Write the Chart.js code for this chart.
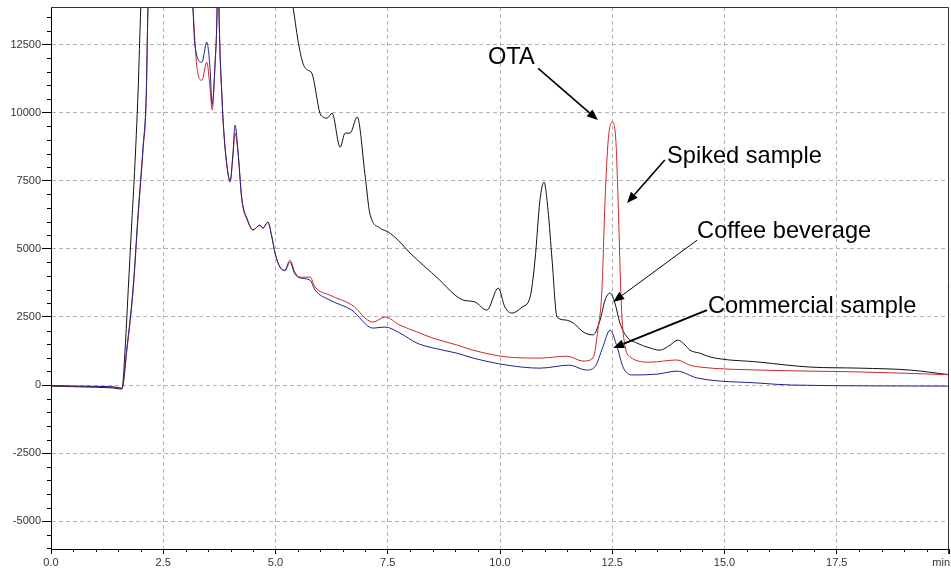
<!DOCTYPE html>
<html>
<head>
<meta charset="utf-8">
<script src="https://cdn.jsdelivr.net/npm/chart.js@4.4.1/dist/chart.umd.min.js"></script>
<style>
html, body { margin: 0; padding: 0; background: #fff; }
#wrap { width: 951px; height: 572px; }
</style>
</head>
<body>
<div id="wrap"><canvas id="chrom" width="951" height="572"></canvas></div>
<script>
// Retention time (min) and detector response for each trace
const beverageTime = [0, 0.5, 1.0, 1.4, 1.58, 1.65, 1.72, 1.80, 1.86, 1.94, 2.00, 2.05, 2.5, 3.5, 4.5,
  5.2, 5.39, 5.50, 5.61, 5.72, 5.81, 5.99, 6.06, 6.15, 6.26, 6.44, 6.55, 6.66, 6.82, 7.00,
  7.10, 7.33, 7.51, 7.73, 8.00, 8.29, 8.66, 9.00, 9.18, 9.44, 9.71, 9.96, 10.11, 10.27, 10.49,
  10.67, 10.78, 10.89, 10.98, 11.07, 11.16, 11.27, 11.45, 11.63, 11.85, 12.07, 12.23, 12.34, 12.45, 12.56,
  12.67, 12.83, 13.05, 13.34, 13.56, 13.79, 13.96, 14.12, 14.23, 14.45, 14.68, 15.79, 16.90, 18.02, 19.13, 20.0];
const beverageSignal = [-40, -60, -80, -110, -150, 1300, 3500, 6000, 7800, 10800, 13880, 15600, 22000, 25000, 20000,
  15500, 13880, 12660, 11820, 11560, 11450, 9980, 9840, 9800, 9980, 8730, 9250, 9250, 9840, 7630,
  6310, 5760, 5620, 5320, 4840, 4400, 3850, 3300, 3120, 3050, 2750, 3560, 2860, 2640, 2860,
  3230, 4590, 6790, 7450, 6420, 4590, 2500, 2390, 2280, 1950, 1840, 2390, 3120, 3380, 3010,
  2280, 1760, 1540, 1360, 1280, 1470, 1650, 1470, 1280, 1170, 1030, 840, 660, 620, 550, 380];

const spikedTime = [0, 0.5, 1.0, 1.4, 1.58, 1.69, 1.83, 1.94, 2.05, 2.12, 2.16, 2.20, 2.6, 3.0, 3.16,
  3.25, 3.36, 3.47, 3.54, 3.59, 3.65, 3.70, 3.72, 3.74, 3.81, 3.85, 3.92, 3.99, 4.05, 4.10,
  4.16, 4.25, 4.37, 4.50, 4.65, 4.72, 4.83, 4.92, 4.99, 5.10, 5.21, 5.32, 5.43, 5.55, 5.77,
  5.88, 6.21, 6.70, 7.17, 7.44, 7.77, 8.15, 8.51, 9.04, 9.40, 10.16, 10.89, 11.49, 11.85, 12.07,
  12.18, 12.27, 12.34, 12.41, 12.50, 12.58, 12.63, 12.69, 12.72, 12.79, 12.90, 13.34, 13.94, 14.23, 14.45,
  15.79, 18.02, 20.0];
const spikedSignal = [-20, -40, -50, -70, -120, 1280, 3490, 6170, 8620, 10460, 13880, 15500, 22000, 18000, 13880,
  11670, 11190, 11850, 10940, 10100, 11670, 13880, 16500, 13880, 10460, 9250, 8000, 7450, 8370, 9250,
  8620, 6790, 6060, 5690, 5870, 5760, 5980, 5430, 4840, 4330, 4220, 4590, 4150, 3960, 3960,
  3600, 3300, 2940, 2310, 2500, 2200, 1950, 1720, 1470, 1280, 1030, 990, 1060, 880, 990,
  2020, 3490, 6790, 8990, 9650, 8990, 6790, 3490, 2390, 1390, 1030, 840, 920, 730, 660,
  550, 480, 380];

const commercialTime = [0, 0.5, 1.0, 1.4, 1.58, 1.69, 1.83, 1.94, 2.05, 2.12, 2.16, 2.20, 2.6, 3.0, 3.16,
  3.20, 3.36, 3.47, 3.54, 3.59, 3.65, 3.70, 3.72, 3.74, 3.81, 3.85, 3.92, 3.99, 4.05, 4.10,
  4.16, 4.25, 4.37, 4.50, 4.65, 4.72, 4.83, 4.92, 4.99, 5.10, 5.21, 5.32, 5.43, 5.55, 5.77,
  5.88, 6.21, 6.70, 7.17, 7.44, 7.77, 8.15, 8.51, 9.04, 9.40, 10.16, 10.89, 11.55, 11.92, 12.11,
  12.29, 12.45, 12.61, 12.74, 12.94, 13.50, 13.94, 14.39, 15.79, 16.50, 20.0];
const commercialSignal = [-20, -40, -50, -70, -120, 1350, 3600, 6300, 8750, 10600, 13880, 15500, 22000, 18000, 13880,
  12550, 11850, 12590, 11670, 10300, 11670, 13880, 16500, 13880, 10500, 9300, 8050, 7500, 8450, 9540,
  8700, 6850, 6100, 5700, 5870, 5760, 5980, 5430, 4840, 4330, 4200, 4510, 4080, 3930, 3850,
  3490, 3120, 2750, 2090, 2130, 1910, 1540, 1360, 1170, 990, 730, 620, 730, 550, 660,
  1390, 2020, 1390, 660, 370, 400, 510, 260, 70, 0, -40];

// Axis ticks and labels
const yMajorTicks = [-5000, -2500, 0, 2500, 5000, 7500, 10000, 12500];
const xMajorTicks = [0, 2.5, 5, 7.5, 10, 12.5, 15, 17.5, 20];
const xTickLabels = ['0.0', '2.5', '5.0', '7.5', '10.0', '12.5', '15.0', '17.5', 'min'];

// Callout labels with arrows, placed in axis units (min, response)
const callouts = [
  { text: 'OTA',               at: [9.73, 11780], from: [10.85, 11630], to: [12.18, 9730], lw: 1.6 },
  { text: 'Spiked sample',     at: [13.72, 8150], from: [13.67, 8260],  to: [12.83, 6680], lw: 1.6 },
  { text: 'Coffee beverage',   at: [14.39, 5390], from: [14.39, 5320],  to: [12.52, 3050], lw: 1.0 },
  { text: 'Commercial sample', at: [14.63, 2640], from: [14.61, 2750],  to: [12.52, 1360], lw: 2.0 }
];

const pairs = (t, v) => t.map((x, i) => ({ x: x, y: v[i] }));
const FONT = '"Liberation Sans", Arial, sans-serif';

const frameAndMinorTicks = {
  id: 'frameAndMinorTicks',
  afterDraw(chart) {
    const { ctx, chartArea: a, scales: { x, y } } = chart;
    ctx.save();
    ctx.setLineDash([]);
    ctx.strokeStyle = '#000';
    ctx.lineWidth = 1;
    ctx.beginPath();
    for (let v = -6000; v <= 13500; v += 500) {
      if (v % 2500 === 0) continue;
      const py = Math.round(y.getPixelForValue(v)) + 0.5;
      if (py < a.top || py > a.bottom) continue;
      ctx.moveTo(a.left - 4, py); ctx.lineTo(a.left, py);
    }
    for (let k = 1; k < 40; k++) {
      if (k % 5 === 0) continue;
      const px = Math.round(x.getPixelForValue(k * 0.5)) + 0.5;
      ctx.moveTo(px, a.bottom); ctx.lineTo(px, a.bottom + 3);
    }
    ctx.stroke();
    // axis lines
    ctx.beginPath();
    ctx.moveTo(a.left + 0.5, a.top); ctx.lineTo(a.left + 0.5, a.bottom + 0.5);
    ctx.lineTo(a.right, a.bottom + 0.5);
    ctx.stroke();
    // top and right frame
    ctx.strokeStyle = '#333';
    ctx.beginPath();
    ctx.moveTo(a.left, a.top + 0.5); ctx.lineTo(a.right - 0.5, a.top + 0.5);
    ctx.lineTo(a.right - 0.5, a.bottom + 5);
    ctx.stroke();
    // unit label at the end of the time axis
    ctx.fillStyle = '#333';
    ctx.font = '11px ' + FONT;
    ctx.textAlign = 'right';
    ctx.textBaseline = 'middle';
    ctx.fillText(xTickLabels[xTickLabels.length - 1], x.getPixelForValue(20) + 1, a.bottom + 14);
    ctx.restore();
  }
};

const calloutPlugin = {
  id: 'callouts',
  afterDraw(chart) {
    const { ctx, scales: { x, y } } = chart;
    ctx.save();
    ctx.setLineDash([]);
    ctx.fillStyle = '#000';
    ctx.strokeStyle = '#000';
    ctx.font = '23.6px ' + FONT;
    ctx.textAlign = 'left';
    ctx.textBaseline = 'alphabetic';
    callouts.forEach(c => {
      ctx.fillText(c.text, x.getPixelForValue(c.at[0]), y.getPixelForValue(c.at[1]));
      const x1 = x.getPixelForValue(c.from[0]), y1 = y.getPixelForValue(c.from[1]);
      const x2 = x.getPixelForValue(c.to[0]), y2 = y.getPixelForValue(c.to[1]);
      const ang = Math.atan2(y2 - y1, x2 - x1);
      const head = 11, half = 4.5;
      const bx = x2 - head * Math.cos(ang), by = y2 - head * Math.sin(ang);
      ctx.lineWidth = c.lw;
      ctx.beginPath(); ctx.moveTo(x1, y1); ctx.lineTo(bx, by); ctx.stroke();
      ctx.beginPath();
      ctx.moveTo(x2, y2);
      ctx.lineTo(bx + half * Math.sin(ang), by - half * Math.cos(ang));
      ctx.lineTo(bx - half * Math.sin(ang), by + half * Math.cos(ang));
      ctx.closePath(); ctx.fill();
    });
    ctx.restore();
  }
};

const line = (label, data, color) => ({
  label, data, borderColor: color, borderWidth: 1, pointRadius: 0,
  cubicInterpolationMode: 'monotone', fill: false
});

new Chart(document.getElementById('chrom'), {
  type: 'line',
  data: {
    datasets: [
      line('Commercial sample', pairs(commercialTime, commercialSignal), '#22228a'),
      line('Spiked sample', pairs(spikedTime, spikedSignal), '#cc2a2a'),
      line('Coffee beverage', pairs(beverageTime, beverageSignal), '#111111')
    ]
  },
  options: {
    responsive: false,
    animation: false,
    devicePixelRatio: 1,
    layout: { padding: { top: 7, right: 2, left: 0, bottom: 0 } },
    plugins: { legend: { display: false }, tooltip: { enabled: false } },
    scales: {
      x: {
        type: 'linear', min: 0, max: 20,
        afterBuildTicks: s => { s.ticks = xMajorTicks.map(v => ({ value: v })); },
        afterFit: s => { s.height = 23; s.paddingLeft = 0; s.paddingRight = 0; },
        ticks: {
          autoSkip: false, maxRotation: 0, padding: 2, color: '#333',
          font: { family: FONT, size: 11 },
          callback: v => { const i = xMajorTicks.indexOf(v); return i === xMajorTicks.length - 1 ? '' : xTickLabels[i]; }
        },
        grid: {
          color: c => (c.tick && (c.tick.value === 0 || c.tick.value === 20)) ? 'rgba(0,0,0,0)' : '#b4b4b4',
          tickLength: 5, tickColor: '#000', tickBorderDash: [], lineWidth: 1
        },
        border: { display: true, color: '#000', width: 1, dash: [4, 3] }
      },
      y: {
        type: 'linear', min: -6020, max: 13880,
        afterBuildTicks: s => { s.ticks = yMajorTicks.map(v => ({ value: v })); },
        afterFit: s => { s.width = 51; s.paddingTop = 0; s.paddingBottom = 0; },
        ticks: {
          padding: 1, color: '#333',
          font: { family: FONT, size: 11 },
          callback: v => String(v)
        },
        grid: {
          color: '#b4b4b4', tickLength: 9, tickColor: '#000', tickBorderDash: [], lineWidth: 1
        },
        border: { display: true, color: '#000', width: 1, dash: [4, 3] }
      }
    }
  },
  plugins: [frameAndMinorTicks, calloutPlugin]
});
</script>
</body>
</html>
